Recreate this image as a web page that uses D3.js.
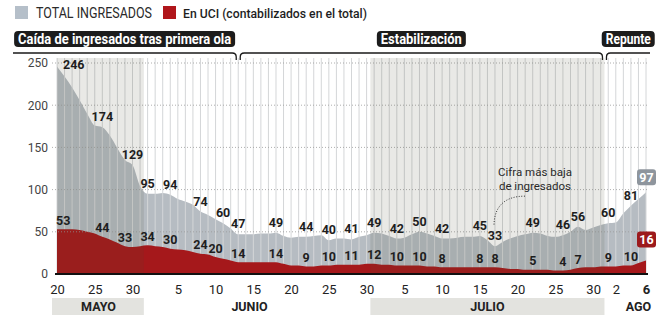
<!DOCTYPE html>
<html>
<head>
<meta charset="utf-8">
<script src="https://cdn.jsdelivr.net/npm/d3@7"></script>
<style>
  body { margin: 0; background: #fff; }
  svg { display: block; font-family: Roboto, "Liberation Sans", sans-serif; }
</style>
</head>
<body>
<div id="chart"></div>
<script>
// daily values, starting 20 May 2020
const startDay = new Date(2020, 4, 20);

const totalIngresados = [
  246, 234, 221, 206, 190, 176, 174, 164, 149, 135,
  129, 104, 95, 95, 96, 94, 89, 86, 82, 74,
  70, 65, 60, 54, 47, 47, 47, 48, 48, 49,
  45, 43, 44, 44, 45, 46, 40, 42, 42, 41,
  44, 46, 49, 48, 45, 42, 43, 47, 50, 48,
  45, 42, 42, 43, 44, 44, 45, 40, 33, 38,
  42, 45, 47, 49, 48, 45, 44, 46, 50, 56,
  52, 55, 58, 60, 61, 72, 81, 89, 97
];

const enUCI = [
  53, 53, 53, 52, 50, 48, 44, 41, 37, 33,
  32, 33, 34, 33, 32, 30, 29, 28, 26, 24,
  23, 20, 18, 16, 14, 14, 14, 14, 14, 14,
  12, 10, 10, 9, 9, 10, 10, 11, 11, 11,
  11, 12, 12, 11, 11, 10, 10, 10, 10, 9,
  9, 8, 8, 8, 8, 8, 8, 8, 8, 7,
  6, 6, 5, 5, 5, 5, 4, 4, 5, 7,
  8, 8, 9, 9, 9, 10, 10, 13, 16
];

// days (index from 20 May) that carry a value label
const totalLabelDays = [0, 6, 10, 12, 15, 19, 22, 24, 29, 33, 36, 39, 42, 45, 48, 51, 56, 58, 63, 67, 69, 73, 76, 78];
const uciLabelDays = [0, 6, 9, 12, 15, 19, 21, 24, 29, 33, 36, 39, 42, 45, 48, 51, 56, 58, 63, 67, 69, 73, 76, 78];

const tickDates = [
  new Date(2020, 4, 20), new Date(2020, 4, 25), new Date(2020, 4, 30),
  new Date(2020, 5, 5), new Date(2020, 5, 10), new Date(2020, 5, 15), new Date(2020, 5, 20), new Date(2020, 5, 25), new Date(2020, 5, 30),
  new Date(2020, 6, 5), new Date(2020, 6, 10), new Date(2020, 6, 15), new Date(2020, 6, 20), new Date(2020, 6, 25), new Date(2020, 6, 30),
  new Date(2020, 7, 2), new Date(2020, 7, 6)
];
const yTicks = [0, 50, 100, 150, 200, 250];

const months = ["MAYO", "JUNIO", "JULIO", "AGO"];
const monthStarts = [new Date(2020, 4, 20), new Date(2020, 5, 1), new Date(2020, 6, 1), new Date(2020, 7, 1)];
const monthEnds = [new Date(2020, 4, 31), new Date(2020, 5, 30), new Date(2020, 6, 31), new Date(2020, 7, 6)];
const monthShaded = [true, false, true, false];
const monthLabelDays = [5.5, 25.5, 57, 77];

const phases = ["Caída de ingresados tras primera ola", "Estabilización", "Repunte"];
const phaseBreakDays = [24, 72.5];

const legendItems = ["TOTAL INGRESADOS", "En UCI (contabilizados en el total)"];

const W = 667, H = 319;
const grayFill = "#b6bcc2";
const redFill = "#a5181b";
const plotTop = 58;

const svg = d3.select("#chart").append("svg")
  .attr("width", W)
  .attr("height", H);

const dates = totalIngresados.map((_, i) => d3.timeDay.offset(startDay, i));
const x = d3.scaleTime()
  .domain([dates[0], dates[dates.length - 1]])
  .range([57, 646]);
const dayX = i => x(new Date(+startDay + i * 864e5));
const y = d3.scaleLinear().domain([0, 250]).range([274, 63]);

// legend
const legend = svg.append("g");
legend.append("rect").attr("x", 15).attr("y", 6).attr("width", 13).attr("height", 13).attr("fill", "#b5bfc9");
legend.append("text").attr("x", 36).attr("y", 18)
  .attr("font-size", 14).attr("fill", "#2a2a2a")
  .attr("textLength", 116).attr("lengthAdjust", "spacingAndGlyphs")
  .text(legendItems[0]);
legend.append("rect").attr("x", 163).attr("y", 6).attr("width", 13).attr("height", 13).attr("fill", "#b0161b");
legend.append("text").attr("x", 183).attr("y", 18)
  .attr("font-size", 13.5).attr("font-weight", 500).attr("fill", "#1e1e1e")
  .attr("textLength", 184).attr("lengthAdjust", "spacingAndGlyphs")
  .text(legendItems[1]);

// phase headers with brackets
const phaseEdges = [13, ...phaseBreakDays.map(dayX), 650];
const headerWidths = [213, 81, 45];
phases.forEach((p, i) => {
  const x0 = phaseEdges[i] + (i > 0 ? 2 : 0);
  const x1 = phaseEdges[i + 1] - (i < phases.length - 1 ? 2 : 0);
  const by = 53, r = 4;
  let path = "";
  if (i > 0) path += `M${x0},${by + 7} L${x0},${by + r} Q${x0},${by} ${x0 + r},${by} `;
  else path += `M${x0},${by} `;
  if (i < phases.length - 1) path += `L${x1 - r},${by} Q${x1},${by} ${x1},${by + r} L${x1},${by + 7}`;
  else path += `L${x1},${by}`;
  svg.append("path").attr("d", path).attr("fill", "none").attr("stroke", "#1a1a1a").attr("stroke-width", 1.3);

  const cx = (x0 + x1) / 2;
  const tw = headerWidths[i];
  svg.append("rect")
    .attr("x", cx - tw / 2 - 4).attr("y", 31)
    .attr("width", tw + 8).attr("height", 16)
    .attr("rx", 4).attr("fill", "#1c1c1c");
  svg.append("text")
    .attr("x", cx).attr("y", 44)
    .attr("text-anchor", "middle")
    .attr("font-size", 14).attr("font-weight", 700).attr("fill", "#fff")
    .attr("textLength", tw).attr("lengthAdjust", "spacingAndGlyphs")
    .text(p);
});

// areas
const area = d3.area()
  .x((d, i) => x(dates[i]))
  .y0(y(0))
  .y1(d => y(d))
  .curve(d3.curveMonotoneX);

svg.append("path").datum(totalIngresados).attr("d", area).attr("fill", grayFill);

// daily vertical grid
svg.append("g").selectAll("line")
  .data(dates)
  .join("line")
  .attr("x1", d => x(d)).attr("x2", d => x(d))
  .attr("y1", plotTop).attr("y2", y(0))
  .attr("stroke", "#d4d6d8").attr("stroke-width", 1);

svg.append("path").datum(enUCI).attr("d", area).attr("fill", redFill);

// horizontal dotted grid
svg.append("g").selectAll("line")
  .data(yTicks.slice(1))
  .join("line")
  .attr("x1", 52).attr("x2", 648)
  .attr("y1", d => y(d)).attr("y2", d => y(d))
  .attr("stroke", "#9a9a9a").attr("stroke-width", 0.8)
  .attr("stroke-dasharray", "1,2");

// shaded months (plot overlay + label band)
months.forEach((m, i) => {
  if (!monthShaded[i]) return;
  const s = d3.timeDay.count(startDay, monthStarts[i]);
  const e = d3.timeDay.count(startDay, monthEnds[i]);
  const bx0 = Math.max(dayX(s - 0.5), x.range()[0]);
  const bx1 = dayX(e + 0.5);
  svg.append("rect")
    .attr("x", bx0).attr("y", plotTop)
    .attr("width", bx1 - bx0).attr("height", y(0) - plotTop)
    .attr("fill", "#4a4a30").attr("opacity", 0.12);
  const lx0 = i === 0 ? dayX(s) - 5 : dayX(s - 0.5);
  svg.append("rect")
    .attr("x", lx0).attr("y", 298)
    .attr("width", bx1 - lx0).attr("height", 17)
    .attr("fill", "#e3e3df");
});

months.forEach((m, i) => {
  svg.append("text")
    .attr("x", dayX(monthLabelDays[i])).attr("y", 311)
    .attr("text-anchor", "middle")
    .attr("font-size", 12.5).attr("font-weight", 700).attr("fill", "#222")
    .text(m);
});

// axes
svg.append("g")
  .attr("transform", `translate(48,0)`)
  .call(d3.axisLeft(y).tickValues(yTicks).tickSize(0).tickPadding(0))
  .call(g => g.select(".domain").remove())
  .call(g => g.selectAll("text")
    .attr("font-family", "Roboto, sans-serif")
    .attr("font-size", 12).attr("fill", "#444"));

svg.append("g")
  .attr("transform", `translate(0,${y(0)})`)
  .call(d3.axisBottom(x).tickValues(tickDates).tickFormat(d3.timeFormat("%-d")).tickSize(0).tickPadding(11))
  .call(g => g.select(".domain").attr("stroke", "#111").attr("stroke-width", 2).attr("d", "M55,0H648"))
  .call(g => g.selectAll("text")
    .attr("font-family", "Roboto, sans-serif")
    .attr("font-size", 13).attr("fill", "#222")
    .attr("font-weight", (d, i) => i === tickDates.length - 1 ? 700 : 400));

// value labels
const lastDay = totalIngresados.length - 1;
function valueLabels(values, days, lift, boxFill, boxDy) {
  days.forEach(d => {
    const v = values[d];
    if (d === lastDay) {
      const cy = y(v) - boxDy;
      svg.append("rect")
        .attr("x", x(dates[d]) - 9).attr("y", cy - 8)
        .attr("width", 19).attr("height", 16)
        .attr("rx", 3).attr("fill", boxFill);
      svg.append("text")
        .attr("x", x(dates[d]) + 0.5).attr("y", cy + 4.5)
        .attr("text-anchor", "middle")
        .attr("font-size", 12.5).attr("font-weight", 700).attr("fill", "#fff")
        .text(v);
      return;
    }
    const t = svg.append("text")
      .attr("font-size", 12.5).attr("font-weight", 700).attr("fill", "#1e1e1e")
      .text(v);
    if (d === 0) {
      if (v > 100) t.attr("x", x(dates[d]) + 6).attr("y", y(v) + 2.5);
      else t.attr("x", x(dates[d]) - 1).attr("y", y(v) - 4.5);
      t.attr("text-anchor", "start");
    } else {
      t.attr("x", x(dates[d])).attr("y", y(v) - lift).attr("text-anchor", "middle");
    }
  });
}
valueLabels(totalIngresados, totalLabelDays, 6, "#8e959d", 15);
valueLabels(enUCI, uciLabelDays, 4.5, "#9c1a1c", 21);

// annotation for the lowest figure
const lowDay = 58;
const ax = x(dates[lowDay]);
const ay = y(totalIngresados[lowDay]);
svg.append("path")
  .attr("d", `M${ax + 30},${ay - 50} C${ax + 10},${ay - 50} ${ax - 1},${ay - 40} ${ax - 1},${ay - 20}`)
  .attr("fill", "none").attr("stroke", "#333").attr("stroke-width", 1)
  .attr("stroke-dasharray", "1,1.6");
svg.append("text")
  .attr("x", ax + 40).attr("y", ay - 70)
  .attr("text-anchor", "middle")
  .attr("font-size", 11.5).attr("fill", "#2a2a2a")
  .text("Cifra más baja");
svg.append("text")
  .attr("x", ax + 40).attr("y", ay - 56.5)
  .attr("text-anchor", "middle")
  .attr("font-size", 11.5).attr("fill", "#2a2a2a")
  .text("de ingresados");
</script>
</body>
</html>
